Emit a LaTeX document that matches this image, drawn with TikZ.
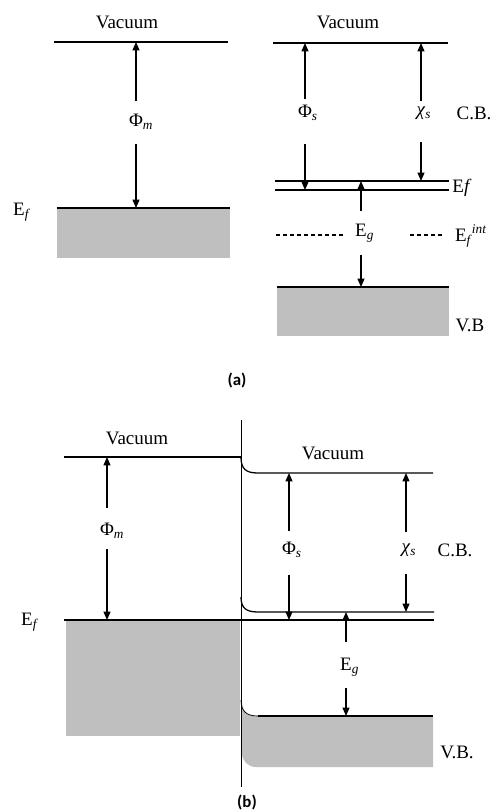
\documentclass[tikz,border=0pt]{standalone}
\usepackage{fontspec}
\setmainfont{Liberation Serif}
\newfontfamily\capfont{Carlito}
\usetikzlibrary{arrows.meta}

\begin{document}
\begin{tikzpicture}[x=0.025cm,y=-0.025cm,
        every node/.style={font=\fontsize{13.5}{16}\selectfont},
        level/.style={line width=0.9pt},
        dim/.style={line width=0.8pt,-{Triangle[length=6pt,width=5pt]}},
        band/.style={fill=black!25},
        lbl/.style={inner sep=0pt},
        panellbl/.style={font=\capfont\bfseries\fontsize{12}{14}\selectfont}]
    \useasboundingbox (0,0) rectangle (490,812);

    % (a) metal
    \begin{scope}
        \fill[band] (57,208) rectangle (230,258);
        \draw[level] (54,42) -- (228,42) coordinate (vacma);
        \draw[level] (57,208) -- (230,208) coordinate (efma);
        \node (vacmatxt) at (127,22) {Vacuum};
        \node (efmatxt) at (22,212) {E\textsubscript{\textit{f}}};
        \node[lbl] (phima) at (136,122) {Φ\rlap{\textsubscript{\textit{m}}}};
        \draw[dim,shorten <=9pt] (phima) -- (phima |- vacma);
        \draw[dim,shorten <=10pt] (phima) -- (phima |- efma);
    \end{scope}

    % (a) semiconductor
    \begin{scope}
        \fill[band] (277,287) rectangle (449,336);
        \draw[level] (273,43) -- (448,43) coordinate (vacsa);
        \draw[level] (275,181) -- (449,181) coordinate (cbsa);
        \draw[level] (275,190) -- (449,190) coordinate (efsa);
        \draw[level] (277,287) -- (449,287) coordinate (vbsa);
        \draw[level,dash pattern=on 3pt off 2pt] (276,235) -- (345,235);
        \draw[level,dash pattern=on 3pt off 2pt] (410,235) -- (445,235);
        \node (vacsatxt) at (348,22) {Vacuum};
        \node (cbsatxt) at (474,113) {C.B.};
        \node (efsatxt) at (462,188) {E\textit{f}};
        \node (intsatxt) at (471,236) {E\textsubscript{\textit{f}}\kern-0.5pt\textsuperscript{\textit{int}}};
        \node (vbsatxt) at (470,325) {V.B};
        \node[lbl] (phisa) at (305,113) {Φ\rlap{\textsubscript{\textit{s}}}};
        \node[lbl] (chisa) at (421,113) {\textit{χ}\rlap{\textsubscript{\textit{s}}}};
        \node[lbl] (egsa) at (361,233) {E\rlap{\textsubscript{\textit{g}}}};
        \draw[dim,shorten <=4pt] (phisa) -- (phisa |- vacsa);
        \draw[dim,shorten <=16pt] (phisa) -- (phisa |- efsa);
        \draw[dim,shorten <=4pt] (chisa) -- (chisa |- vacsa);
        \draw[dim,shorten <=16pt] (chisa) -- (chisa |- cbsa);
        \draw[dim,shorten <=9pt] (egsa) -- (egsa |- cbsa);
        \draw[dim,shorten <=9pt] (egsa) -- (egsa |- vbsa);
    \end{scope}
    \node[panellbl] (capa) at (237,381) {(a)};

    % (b) contact
    \begin{scope}
        \fill[band] (66,620) rectangle (240,736);
        \fill[band] (242,700) .. controls (242,711) and (247,716) .. (258,716)
            -- (433,716) -- (433,767) -- (256,767)
            .. controls (248,767) and (242,761) .. (242,753) -- cycle;
        \draw[level] (64,457) -- (241,457) coordinate (vacmb);
        \draw[level] (64,620) -- (434,620) coordinate (efb);
        \draw[line width=0.7pt] (241,420) -- (241,787);
        \draw[level] (241,457) .. controls (241,469) and (246,473) .. (258,473)
            -- (433,473) coordinate (vacsb);
        \draw[level] (241,597) .. controls (241,608) and (246,612) .. (258,612)
            -- (434,612) coordinate (cbsb);
        \draw[line width=0.5pt] (241,700) .. controls (241,711) and (246,716) .. (258,716);
        \draw[level] (258,716) -- (433,716) coordinate (vbsb);
        \node (vacmbtxt) at (137,438) {Vacuum};
        \node (vacsbtxt) at (333,453) {Vacuum};
        \node (efbtxt) at (30,622) {E\textsubscript{\textit{f}}};
        \node (cbsbtxt) at (455,550) {C.B.};
        \node (vbsbtxt) at (457,752) {V.B.};
        \node[lbl] (phimb) at (107,531) {Φ\rlap{\textsubscript{\textit{m}}}};
        \node[lbl] (phisb) at (289,550) {Φ\rlap{\textsubscript{\textit{s}}}};
        \node[lbl] (chisb) at (406,550) {\textit{χ}\rlap{\textsubscript{\textit{s}}}};
        \node[lbl] (egsb) at (346,667) {E\rlap{\textsubscript{\textit{g}}}};
        \draw[dim,shorten <=11pt] (phimb) -- (phimb |- vacmb);
        \draw[dim,shorten <=7pt] (phimb) -- (phimb |- efb);
        \draw[dim,shorten <=8pt] (phisb) -- (phisb |- vacsb);
        \draw[dim,shorten <=12pt] (phisb) -- (phisb |- efb);
        \draw[dim,shorten <=8pt] (chisb) -- (chisb |- vacsb);
        \draw[dim,shorten <=12pt] (chisb) -- (chisb |- cbsb);
        \draw[dim,shorten <=11pt] (egsb) -- (egsb |- cbsb);
        \draw[dim,shorten <=8pt] (egsb) -- (egsb |- vbsb);
    \end{scope}
    \node[panellbl] (capb) at (247,803) {(b)};
\end{tikzpicture}
\end{document}
